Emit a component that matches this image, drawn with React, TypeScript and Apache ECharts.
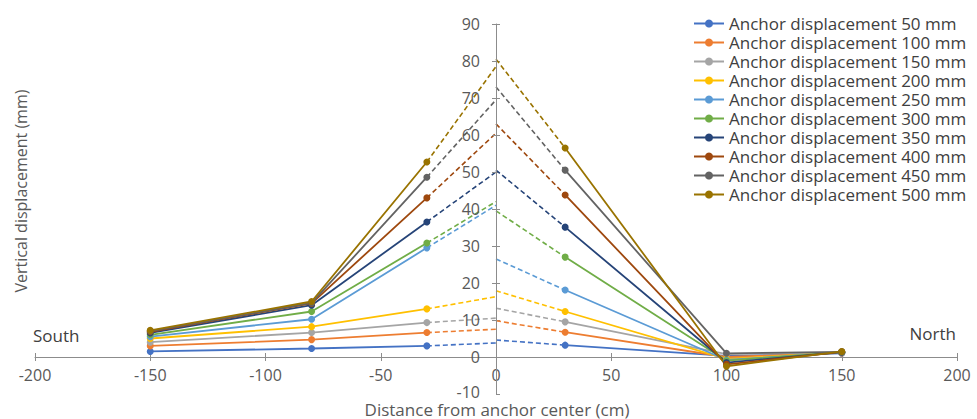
import React, { useEffect, useRef } from "react";
import * as echarts from "echarts";

// Measurement positions (cm from anchor center)
const xPositions = [-150, -80, -30, 30, 100, 150];
const xPeak = 0;

const seriesNames = [
  "Anchor displacement 50 mm",
  "Anchor displacement 100 mm",
  "Anchor displacement 150 mm",
  "Anchor displacement 200 mm",
  "Anchor displacement 250 mm",
  "Anchor displacement 300 mm",
  "Anchor displacement 350 mm",
  "Anchor displacement 400 mm",
  "Anchor displacement 450 mm",
  "Anchor displacement 500 mm",
];

const colors = [
  "#4472C4", "#ED7D31", "#A5A5A5", "#FFC000", "#5B9BD5",
  "#70AD47", "#264478", "#9E480E", "#636363", "#997300",
];

// vertical displacement (mm) at xPositions
const d50 = [1.5, 2.3, 3.0, 3.2, 0.3, 1.0];
const d100 = [3.0, 4.7, 6.6, 6.7, 0.0, 1.1];
const d150 = [4.0, 6.6, 9.3, 9.5, 0.8, 1.2];
const d200 = [5.0, 8.2, 13.0, 12.3, -0.5, 1.2];
const d250 = [5.5, 10.2, 29.5, 18.1, -0.8, 1.2];
const d300 = [6.0, 12.3, 30.8, 27.0, -1.0, 1.3];
const d350 = [6.5, 14.0, 36.5, 35.1, -1.5, 1.3];
const d400 = [6.8, 14.5, 43.0, 43.8, -2.0, 1.4];
const d450 = [7.0, 14.6, 48.6, 50.5, 1.0, 1.4];
const d500 = [7.2, 15.0, 52.7, 56.5, -2.5, 1.5];
const allValues = [d50, d100, d150, d200, d250, d300, d350, d400, d450, d500];

// extrapolated (dashed) peak values at the anchor center, from the south and north sides
const peakLeft = [3.8, 7.5, 10.5, 16.3, 41, 42, 50, 60.5, 69.5, 78.5];
const peakRight = [4.6, 9.8, 13.2, 17.9, 26.5, 39.5, 50.5, 63, 73, 80.5];

const yTicks = { min: -10, max: 90, interval: 10 };
const xTicks = { min: -200, max: 200, interval: 50 };

const FONT = "'Open Sans', sans-serif";
const TEXT = "#595959";
const AXIS = "#8c8c8c";

const GRID = { left: 35, right: 20, top: 24, bottom: 25 };
const W = 977;
const H = 419;

export default function App() {
  const ref = useRef<HTMLDivElement>(null);
  useEffect(() => {
    if (!ref.current) return;
    const chart = echarts.init(ref.current, undefined, { renderer: "svg" });
    const series: any[] = [];
    allValues.forEach((vals, i) => {
      const pts: any[] = [];
      xPositions.forEach((x, k) => {
        if (x > xPeak && xPositions[k - 1] < xPeak) pts.push([xPeak, null]);
        pts.push([x, vals[k]]);
      });
      const iL = xPositions.findIndex((x) => x > xPeak) - 1;
      const iR = iL + 1;
      series.push({
        name: seriesNames[i] + " (extrapolated)",
        type: "line",
        data: [
          [xPositions[iL], vals[iL]],
          [xPeak, peakLeft[i]],
          [xPeak, null],
          [xPeak, peakRight[i]],
          [xPositions[iR], vals[iR]],
        ],
        symbol: "none",
        connectNulls: false,
        lineStyle: { color: colors[i], width: 1.6, type: [5, 3] },
        itemStyle: { color: colors[i] },
        z: 2,
        silent: true,
      });
      series.push({
        name: seriesNames[i],
        type: "line",
        data: pts,
        symbol: "circle",
        symbolSize: 7,
        connectNulls: false,
        lineStyle: { color: colors[i], width: 1.8 },
        itemStyle: { color: colors[i] },
        z: 3,
      });
    });

    // place the axes through the origin (Excel-style crossing at 0)
    const gridW = W - GRID.left - GRID.right;
    const gridH = H - GRID.top - GRID.bottom;
    const xAxisOffset = -Math.round((gridH * (0 - yTicks.min)) / (yTicks.max - yTicks.min));
    const yAxisOffset = -Math.round((gridW * (0 - xTicks.min)) / (xTicks.max - xTicks.min));
    const yAxisX = GRID.left - yAxisOffset;

    const xBase = {
      type: "value",
      position: "bottom",
      offset: xAxisOffset,
      min: xTicks.min,
      max: xTicks.max,
      interval: xTicks.interval,
      splitLine: { show: false },
    };
    const yBase = {
      type: "value",
      position: "left",
      offset: yAxisOffset,
      min: yTicks.min,
      max: yTicks.max,
      interval: yTicks.interval,
      splitLine: { show: false },
    };

    chart.setOption({
      animation: false,
      backgroundColor: "#ffffff",
      textStyle: { fontFamily: FONT },
      grid: { ...GRID, containLabel: false },
      legend: {
        data: seriesNames,
        orient: "vertical",
        left: 693,
        top: 14,
        padding: 0,
        itemGap: 0,
        itemWidth: 30,
        itemHeight: 10,
        textStyle: { fontFamily: FONT, fontSize: 17, color: "#404040", lineHeight: 19 },
      },
      xAxis: [
        {
          ...xBase,
          axisLine: { show: true, onZero: false, lineStyle: { color: AXIS, width: 1 } },
          axisTick: { show: true, length: 4, lineStyle: { color: AXIS } },
          axisLabel: { fontFamily: FONT, fontSize: 16, color: TEXT, margin: 10, lineHeight: 16 },
        },
        {
          ...xBase,
          axisLine: { show: false, onZero: false },
          axisTick: { show: true, inside: true, length: 4, lineStyle: { color: AXIS } },
          axisLabel: { show: false },
        },
      ],
      yAxis: [
        {
          ...yBase,
          axisLine: { show: true, onZero: false, lineStyle: { color: AXIS, width: 1 } },
          axisTick: { show: true, length: 4, lineStyle: { color: AXIS } },
          axisLabel: {
            fontFamily: FONT,
            fontSize: 16,
            color: TEXT,
            margin: 16,
            lineHeight: 16,
            showMinLabel: false,
          },
          z: 10,
        },
        {
          ...yBase,
          axisLine: { show: false, onZero: false },
          axisTick: { show: true, inside: true, length: 4, lineStyle: { color: AXIS } },
          axisLabel: { show: false },
        },
      ],
      graphic: [
        {
          type: "text",
          x: yAxisX - 16,
          y: H - GRID.bottom - 2,
          style: {
            text: String(yTicks.min),
            font: `16px ${FONT}`,
            fill: TEXT,
            textAlign: "right",
            textVerticalAlign: "middle",
          },
        },
        {
          type: "text",
          x: 497,
          y: 409,
          style: {
            text: "Distance from anchor center (cm)",
            font: `17px ${FONT}`,
            fill: TEXT,
            textAlign: "center",
            textVerticalAlign: "middle",
          },
        },
        {
          type: "text",
          x: 21,
          y: 191,
          rotation: Math.PI / 2,
          style: {
            text: "Vertical displacement (mm)",
            font: `16px ${FONT}`,
            fill: TEXT,
            textAlign: "center",
            textVerticalAlign: "middle",
          },
        },
        {
          type: "text",
          x: 33,
          y: 335,
          style: { text: "South", font: `17px ${FONT}`, fill: "#404040", textAlign: "left", textVerticalAlign: "middle" },
        },
        {
          type: "text",
          x: 956,
          y: 333,
          style: { text: "North", font: `17px ${FONT}`, fill: "#404040", textAlign: "right", textVerticalAlign: "middle" },
        },
      ],
      series,
    });
    return () => chart.dispose();
  }, []);
  return (
    <div
      ref={ref}
      style={{ position: "fixed", left: 0, top: 0, width: W, height: H, background: "#fff" }}
    />
  );
}
